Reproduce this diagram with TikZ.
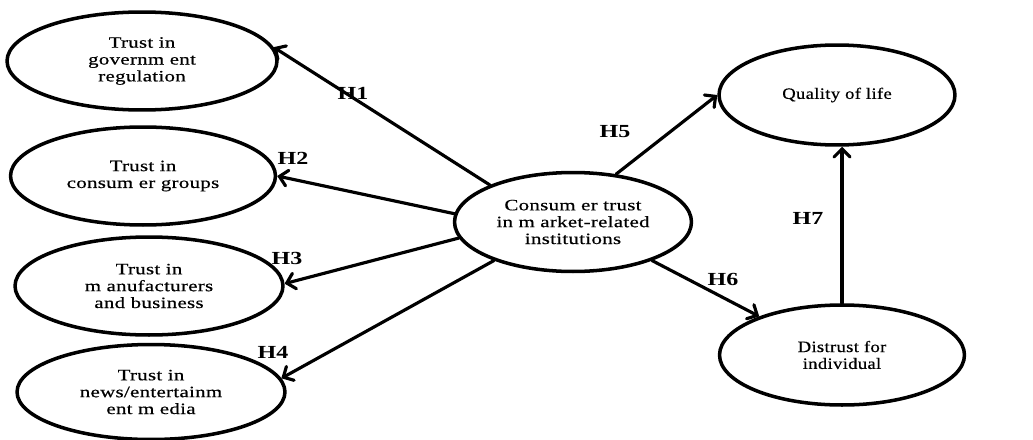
\documentclass[tikz,border=0pt]{standalone}
\usepackage{fontspec}
\setmainfont{Liberation Serif}
\newfontfamily\boxfont[FakeStretch=1.32,LetterSpace=2,FakeBold=0.5]{Liberation Serif}
\newfontfamily\rboxfont[FakeStretch=1.18,LetterSpace=2,FakeBold=0.5]{Liberation Serif}
\newfontfamily\hypfont[FakeStretch=1.3]{Liberation Serif}
\usepackage{tikz}
\usetikzlibrary{arrows,shapes.geometric}
\tikzset{
  construct/.style={ellipse,draw,line width=2pt,inner sep=0pt,align=center,
    font=\boxfont\fontsize{9}{9.6}\selectfont},
  rconstruct/.style={construct,font=\rboxfont\fontsize{9}{9.6}\selectfont},
  path/.style={->,line width=1.8pt},
  hyp/.style={font=\hypfont\bfseries\fontsize{10.5}{10.5}\selectfont}
}

\begin{document}
\begin{tikzpicture}[line cap=round,line join=round,>=angle 90,x=0.02cm,y=-0.02cm]
\useasboundingbox (0,0) rectangle (1033,439);
\node[construct,minimum width=5.4cm,minimum height=1.96cm] (gov) at (142,61) {Trust in\\governm ent\\regulation};
\node[construct,minimum width=5.3cm,minimum height=1.96cm] (grp) at (143,176) {Trust in\\consum er groups};
\node[construct,minimum width=5.36cm,minimum height=1.96cm] (mfr) at (149,286) {Trust in\\m anufacturers\\and business};
\node[construct,minimum width=5.36cm,minimum height=1.9cm] (news) at (151,392) {Trust in\\news/entertainm\\ent m edia};
\node[construct,minimum width=4.74cm,minimum height=1.98cm] (ctr) at (573,222) {Consum er trust\\in m arket-related\\institutions};
\node[rconstruct,minimum width=4.72cm,minimum height=2cm] (qol) at (837,95) {Quality of life};
\node[rconstruct,minimum width=4.9cm,minimum height=2cm] (dis) at (842,355) {Distrust for\\individual};
% hypotheses
\draw[path] (ctr.156) -- (gov.6);
\draw[path] (ctr.176) -- (grp.east);
\draw[path] (ctr.188) -- (mfr.1);
\draw[path] (ctr.206) -- (news.6);
\draw[path] (ctr.48) -- (qol.west);
\draw[path] (ctr.334) -- (dis.155);
\draw[path] (dis.north) -- (dis.north |- qol.south);
\node[hyp] (h1) at (353,93) {H1};
\node[hyp] (h2) at (293,158) {H2};
\node[hyp] (h3) at (287,258) {H3};
\node[hyp] (h4) at (273,352) {H4};
\node[hyp] (h5) at (615,132) {H5};
\node[hyp] (h6) at (723,279) {H6};
\node[hyp] (h7) at (808,218) {H7};
\end{tikzpicture}
\end{document}
